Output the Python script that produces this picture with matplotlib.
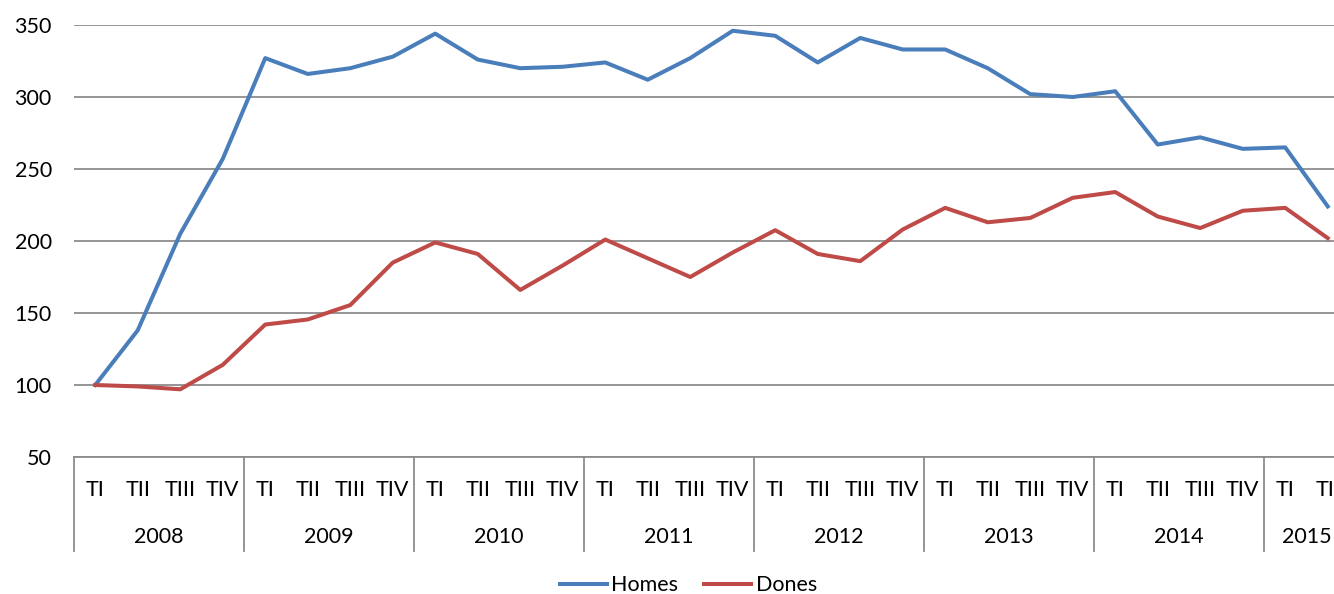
import matplotlib.pyplot as plt
import matplotlib.transforms as mtransforms
from matplotlib.lines import Line2D

plt.rcParams['font.family'] = ['Lato', 'DejaVu Sans']

years = ['2008', '2009', '2010', '2011', '2012', '2013', '2014', '2015']
quarters = ['TI', 'TII', 'TIII', 'TIV'] * 7 + ['TI', 'TII']
homes = [100, 138, 205, 257, 327, 316, 320, 328, 344, 326, 320, 321, 324, 312, 327,
         346, 342.5, 324, 341, 333, 333, 320, 302, 300, 304, 267, 272, 264, 265, 224]
dones = [100, 99, 97, 114, 142, 145.5, 155.5, 185, 199, 191, 166, 183, 201, 188, 175,
         192, 207.5, 191, 186, 208, 223, 213, 216, 230, 234, 217, 209, 221, 223, 202]

fig = plt.figure(figsize=(13.34, 5.94), dpi=100)
ax = fig.add_axes([74/1334, 1-457/594, 1275/1334, 432/594])

x = list(range(len(homes)))
ax.plot(x, homes, color='#4A7EBB', lw=2.9, label='Homes', solid_joinstyle='round')
ax.plot(x, dones, color='#BE4B48', lw=2.9, label='Dones', solid_joinstyle='round')

ax.set_xlim(-0.5, len(homes)-0.5)
ax.set_ylim(50, 350)
ax.set_yticks([50, 100, 150, 200, 250, 300, 350])
ax.yaxis.grid(True, color='#8c8c8c', lw=1.3)
ax.set_axisbelow(True)
for s in ['left', 'right', 'top']:
    ax.spines[s].set_visible(False)
ax.spines['bottom'].set_color('#8c8c8c')
ax.spines['bottom'].set_linewidth(1.3)
ax.set_xticks([])
ax.tick_params(axis='y', length=0, pad=16, labelsize=15.5)

# two-level category axis
trans = mtransforms.blended_transform_factory(ax.transData, ax.transAxes)
for i, q in enumerate(quarters):
    ax.text(i, -0.076, q, transform=trans, ha='center', va='center', fontsize=15.5, clip_on=False)
start = 0
for y in years:
    n = 4 if y != '2015' else 2
    ax.text(start + (n-1)/2, -0.185, y, transform=trans, ha='center', va='center',
            fontsize=15.5, clip_on=False)
    ax.plot([start-0.5, start-0.5], [0, -0.218], transform=trans, color='#8c8c8c',
            lw=1.3, clip_on=False)
    start += n

handles = [Line2D([], [], color='#4A7EBB', lw=2.9), Line2D([], [], color='#BE4B48', lw=2.9)]
fig.legend(handles, ['Homes', 'Dones'], loc='center', bbox_to_anchor=(0.516, 0.015),
           ncol=2, frameon=False, fontsize=15.5, handlelength=2.2, handletextpad=0.2,
           columnspacing=1.2)

fig.savefig('out.png', dpi=100)
